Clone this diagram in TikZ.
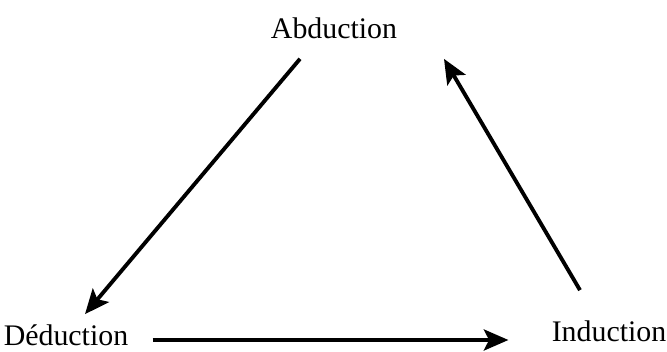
\documentclass[tikz,border=0pt]{standalone}
\usepackage{fontspec}
\setmainfont{Liberation Serif}
\usetikzlibrary{arrows.meta}
\begin{document}
\begin{tikzpicture}[x=0.02cm,y=-0.02cm,
  mode/.style={inner sep=0pt,font=\fontsize{17}{20}\selectfont},
  arr/.style={line width=2.2pt,-{Stealth[length=14pt,width=12pt,inset=3pt]}}]
  \useasboundingbox (0,0) rectangle (667,352);
  \node[mode] (abd) at (334,28) {Abduction};
  \node[mode] (ded) at (66,335) {Déduction};
  \node[mode] (ind) at (609,331) {Induction};
  % cycle of reasoning
  \draw[arr] ([shift={(-34,20)}]abd.south) -- ([shift={(19,-10)}]ded.north);
  \draw[arr] ([shift={(24,5)}]ded.east) -- ([shift={(-43,9)}]ind.west);
  \draw[arr] ([shift={(-29,-30)}]ind.north) -- ([shift={(110,20)}]abd.south);
\end{tikzpicture}
\end{document}
